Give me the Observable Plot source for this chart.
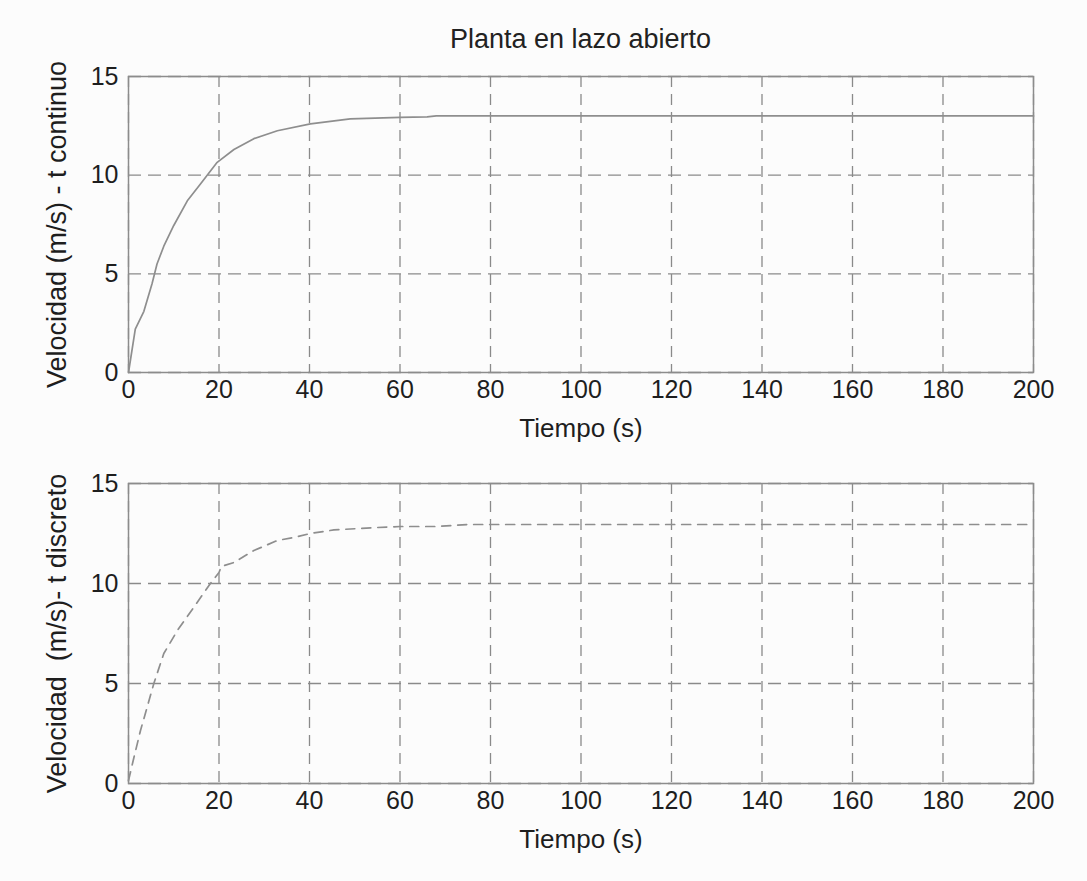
<!DOCTYPE html>
<html>
<head>
<meta charset="utf-8">
<script src="https://cdn.jsdelivr.net/npm/d3@7"></script>
<script src="https://cdn.jsdelivr.net/npm/@observablehq/plot@0.6"></script>
<style>
  html, body { margin: 0; padding: 0; background: #fcfcfc; }
  #wrap { position: relative; width: 1087px; height: 881px; font-family: "Liberation Sans", Arial, sans-serif; }
  #title { position: absolute; left: 0; top: 24px; width: 1161px; text-align: center; font-size: 27px; color: #222; }
  .panel { position: absolute; left: 0; }
</style>
</head>
<body>
<div id="wrap">
  <div id="title">Planta en lazo abierto</div>
  <div id="top" class="panel" style="top:0px"></div>
  <div id="bottom" class="panel" style="top:460px"></div>
</div>
<script>
// Continuous-time response (top panel)
const tCont = [0, 1.5, 3.4, 5.2, 6.3, 7.8, 10, 13, 15.9, 19.6, 23.3, 27.7, 32.9, 40.2, 49, 60, 66, 68, 80, 100, 200];
const vCont = [0, 2.2, 3.1, 4.5, 5.5, 6.4, 7.45, 8.7, 9.55, 10.65, 11.3, 11.85, 12.25, 12.6, 12.85, 12.93, 12.95, 13.0, 13.0, 13.0, 13.0];
// Discrete-time response (bottom panel)
const tDisc = [0, 1.2, 2.65, 4.1, 5.6, 7.8, 10.8, 14.4, 18.1, 20, 20.5, 23.3, 27.7, 32.9, 36.5, 40.2, 45.4, 55, 60, 68, 75, 80, 200];
const vDisc = [0.15, 1.3, 2.65, 3.8, 5.0, 6.5, 7.65, 8.8, 10.0, 10.55, 10.85, 11.05, 11.65, 12.15, 12.3, 12.5, 12.68, 12.8, 12.85, 12.85, 12.95, 12.95, 12.95];

const xTicks = [0, 20, 40, 60, 80, 100, 120, 140, 160, 180, 200];
const yTicks = [0, 5, 10, 15];
const xLabel = "Tiempo (s)";
const yLabelTop = "Velocidad (m/s) - t continuo";
const yLabelBottom = "Velocidad  (m/s)- t discreto";

function panel(ts, vs, dash, ylabel, height, mt, mb) {
  const data = ts.map((t, i) => ({t, v: vs[i]}));
  return Plot.plot({
    width: 1087,
    height,
    marginLeft: 128,
    marginRight: 54,
    marginTop: mt,
    marginBottom: mb,
    x: {domain: [0, 200]},
    y: {domain: [0, 15]},
    style: {fontFamily: "'Liberation Sans', Arial, sans-serif", fontSize: "25px", background: "transparent", color: "#1e1e1e"},
    marks: [
      Plot.gridX(xTicks, {stroke: "#8a8a8a", strokeOpacity: 1, strokeWidth: 1.3, strokeDasharray: "11,7"}),
      Plot.gridY(yTicks, {stroke: "#8a8a8a", strokeOpacity: 1, strokeWidth: 1.3, strokeDasharray: "13,7"}),
      Plot.frame({stroke: "#8c8c8c", strokeWidth: 1.5}),
      Plot.line(data, {x: "t", y: "v", stroke: "#8e8e8e", strokeWidth: 1.7, strokeDasharray: dash}),
      Plot.axisX(xTicks, {tickSize: 0, tickPadding: 8, label: xLabel, labelAnchor: "center", labelArrow: "none", labelOffset: 64, fontSize: 25}),
      Plot.axisY(yTicks, {tickSize: 0, tickPadding: 10, label: ylabel, labelAnchor: "center", labelArrow: "none", labelOffset: 82, fontSize: 25})
    ]
  });
}

const top1 = panel(tCont, vCont, null, yLabelTop, 460, 76, 88);
const bot1 = panel(tDisc, vDisc, "9,7", yLabelBottom, 421, 23, 98);
document.getElementById("top").appendChild(top1);
document.getElementById("bottom").appendChild(bot1);
// enlarge axis labels slightly
for (const svg of [top1, bot1]) {
  svg.querySelectorAll("g[aria-label='x-axis label'] text").forEach(t => t.setAttribute("font-size", "26"));
  svg.querySelectorAll("g[aria-label='y-axis label'] text").forEach(t => t.setAttribute("font-size", "27"));
}
</script>
</body>
</html>
